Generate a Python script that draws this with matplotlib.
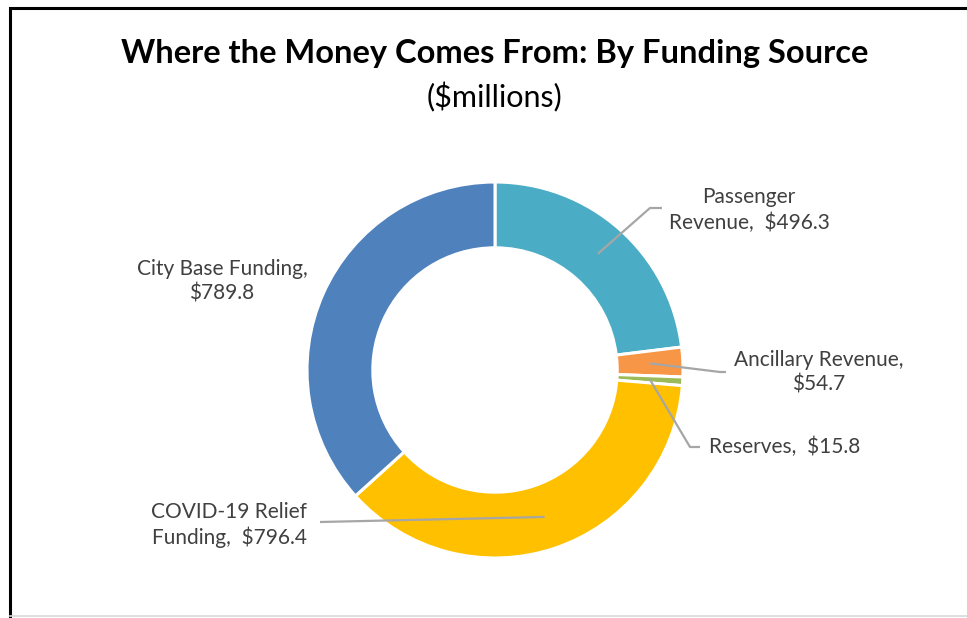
import matplotlib

matplotlib.use("Agg")

import matplotlib.pyplot as plt
import numpy as np

W, H = 967, 618

# data ($millions), clockwise from 12 o'clock
sources = ["Passenger Revenue", "Ancillary Revenue", "Reserves",
           "COVID-19 Relief Funding", "City Base Funding"]
amounts = [496.3, 54.7, 15.8, 796.4, 789.8]
colors = ["#4BACC6", "#F79646", "#9BBB59", "#FFC000", "#4F81BD"]
label_text = ["Passenger\nRevenue,  $496.3", "Ancillary Revenue,\n$54.7",
              "Reserves,  $15.8", "COVID-19 Relief\nFunding,  $796.4",
              "City Base Funding,\n$789.8"]

FONT = ["Lato", "DejaVu Sans"]
INK = "#404040"
LEADER = "#A6A6A6"

# layout in pixels (y measured from the top)
CX, CY, R = 495, 370, 188
HOLE = 0.65
label_pos = [(749, 210), (819, 372), (785, 447), (229, 525), (222, 281)]
# elbow points for leader lines (None = no leader)
elbows = [[(650, 208), (662, 208)],
          [(720, 372), (726, 372)],
          [(690, 447), (700, 447)],
          [(320, 522)],
          None]


def py(y):
    return H - y


fig = plt.figure(figsize=(W / 100, H / 100), dpi=100)
ax = fig.add_axes([0, 0, 1, 1])

wedges, _ = ax.pie(amounts, colors=colors, startangle=90, counterclock=False,
                   center=(CX, py(CY)), radius=R,
                   wedgeprops=dict(width=R * (1 - HOLE), edgecolor="white", linewidth=2.2))
ax.set_xlim(0, W)
ax.set_ylim(0, H)
ax.set_aspect("equal")
ax.axis("off")

r_mid = R * (1 + HOLE) / 2
for w, txt, (lx, ly), elb in zip(wedges, label_text, label_pos, elbows):
    if elb is not None:
        th = np.deg2rad((w.theta1 + w.theta2) / 2)
        pts = [(CX + r_mid * np.cos(th), py(CY) + r_mid * np.sin(th))]
        pts += [(x, py(y)) for x, y in elb]
        xs, ys = zip(*pts)
        ax.plot(xs, ys, color=LEADER, lw=1.6, zorder=5, solid_capstyle="butt")
    ax.text(lx, py(ly), txt, ha="center", va="center", fontsize=15,
            color=INK, family=FONT, linespacing=1.3, zorder=6)

ax.text(495, py(53), "Where the Money Comes From: By Funding Source",
        ha="center", va="center", fontsize=23.5, fontweight="bold",
        color="black", family=FONT)
ax.text(495, py(97), "($millions)", ha="center", va="center",
        fontsize=22, color="black", family=FONT)

# chart border (left and top dark, bottom faint)
ax.plot([10, 10, W], [py(H), py(8), py(8)], color="black", lw=2.2,
        solid_joinstyle="miter", zorder=10)
ax.plot([10, W], [py(615.5), py(615.5)], color="#D9D9D9", lw=1.2, zorder=10)

fig.savefig("out.png", dpi=100)
